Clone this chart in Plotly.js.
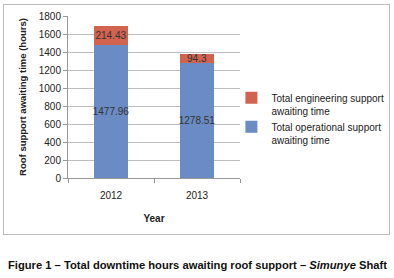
<!DOCTYPE html>
<html>
<head>
<meta charset="utf-8">
<script src="https://cdn.plot.ly/plotly-3.0.1.min.js"></script>
<style>
html,body{margin:0;padding:0;background:#fff;}
#wrap{position:relative;width:394px;height:278px;}
#chart{width:394px;height:278px;}
#frame{position:absolute;left:3px;top:4px;width:387px;height:231px;box-sizing:border-box;border:1.5px solid #bcbcbc;pointer-events:none;}
</style>
</head>
<body>
<div id="wrap">
<div id="chart"></div>
<div id="frame"></div>
</div>
<script>
const years = ['2012', '2013'];
const operational = [1477.96, 1278.51];
const engineering = [214.43, 94.3];
const seriesNames = ['Total operational support<br>awaiting time', 'Total engineering support<br>awaiting time'];
const yTicks = [0, 200, 400, 600, 800, 1000, 1200, 1400, 1600, 1800];

const FONT = 'Liberation Sans, Arial, sans-serif';
const labelFont = {family: FONT, size: 10, color: '#333'};

const traces = [
  {
    type: 'bar', x: years, y: operational, name: seriesNames[0],
    marker: {color: '#6a8bc4'},
    text: operational.map(v => String(v)), textposition: 'inside',
    insidetextanchor: 'middle', textangle: 0, constraintext: 'none',
    textfont: labelFont, hoverinfo: 'x+y'
  },
  {
    type: 'bar', x: years, y: engineering, name: seriesNames[1],
    marker: {color: '#d2634f'},
    text: engineering.map(v => String(v)), textposition: 'inside',
    insidetextanchor: 'middle', textangle: 0, constraintext: 'none',
    textfont: labelFont, hoverinfo: 'x+y'
  }
];

const layout = {
  width: 394, height: 278,
  margin: {l: 68, r: 154, t: 16, b: 100, pad: 0, autoexpand: false},
  paper_bgcolor: '#fff', plot_bgcolor: '#fff',
  barmode: 'stack', bargap: 0.61,
  showlegend: true,
  legend: {
    x: 0.95, y: 0.575, xanchor: 'left', yanchor: 'top',
    traceorder: 'reversed', valign: 'top', bgcolor: 'rgba(0,0,0,0)',
    font: {family: FONT, size: 10, color: '#222'},
    itemwidth: 30, tracegroupgap: 5
  },
  xaxis: {
    type: 'category', showline: true, linecolor: '#999', linewidth: 1,
    ticks: 'outside', ticklen: 4, tickcolor: '#999', tickson: 'boundaries',
    ticklabelstandoff: 8,
    tickfont: {family: FONT, size: 10, color: '#222'},
    title: {text: '<b>Year</b>', font: {family: FONT, size: 10, color: '#222'}, standoff: 14}
  },
  yaxis: {
    range: [0, 1800], tickvals: yTicks, showline: true, linecolor: '#999', linewidth: 1,
    ticks: 'outside', ticklen: 4, tickcolor: '#999',
    showgrid: true, gridcolor: '#bdbdbd', gridwidth: 1, zeroline: false,
    tickfont: {family: FONT, size: 10, color: '#222'},
    title: {text: '<b>Roof support awaiting time (hours)</b>', font: {family: FONT, size: 9.5, color: '#222'}, standoff: 10}
  },
  annotations: [
    {
      xref: 'paper', yref: 'paper', x: 0.75, y: -0.537, xanchor: 'center', yanchor: 'middle',
      showarrow: false,
      text: '<b>Figure 1 – Total downtime hours awaiting roof support – <i>Simunye</i> Shaft</b>',
      font: {family: FONT, size: 11.2, color: '#111'}
    }
  ]
};

Plotly.newPlot('chart', traces, layout, {displayModeBar: false, staticPlot: true});
</script>
</body>
</html>
